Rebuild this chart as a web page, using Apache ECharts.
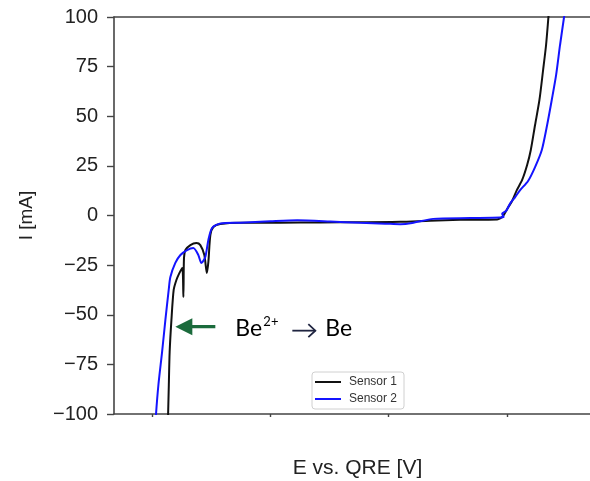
<!DOCTYPE html>
<html>
<head>
<meta charset="utf-8">
<script src="https://cdn.jsdelivr.net/npm/echarts@6/dist/echarts.min.js"></script>
<style>
  html, body { margin: 0; padding: 0; background: #fff; }
  #chart { width: 590px; height: 481px; }
</style>
</head>
<body>
<div id="chart"></div>
<script>
// Potential (V vs. QRE) and current (mA) for each sensor scan
const sensor1E = [-1.866, -1.863, -1.857, -1.850, -1.835, -1.816, -1.793, -1.768, -1.743, -1.734,
  -1.729, -1.717, -1.675, -1.624, -1.591, -1.557, -1.536, -1.523, -1.506, -1.481,
  -1.422, -1.253, -0.916, -0.578, -0.241, 0.097, 0.350, 0.603, 0.916, 0.941,
  0.966, 1.008, 1.042, 1.082, 1.127, 1.169, 1.200, 1.236, 1.273, 1.304, 1.329, 1.349, 1.354];
const sensor1I = [-108, -100, -85.4, -68.8, -52.6, -37.5, -32.5, -29.0, -26.4, -41.1,
  -21.4, -17.4, -14.9, -13.9, -14.9, -19.9, -29.0, -23.4, -9.8, -5.8,
  -4.3, -3.6, -3.6, -3.5, -3.4, -3.2, -2.6, -2.2, -2.0, -1.5,
  -0.25, 4.0, 7.3, 12.8, 17.9, 25.4, 33.0, 45.6, 58.2, 73.3, 85.9, 100, 103.5];

const sensor2E = [-1.968, -1.965, -1.945, -1.914, -1.886, -1.858, -1.844, -1.802, -1.759, -1.703,
  -1.650, -1.608, -1.582, -1.549, -1.523, -1.492, -1.422, -1.253, -1.000, -0.772,
  -0.494, -0.241, -0.030, 0.097, 0.198, 0.376, 0.688, 0.941, 0.970, 0.958,
  0.992, 1.025, 1.068, 1.110, 1.177, 1.236, 1.293, 1.338, 1.377, 1.414, 1.447, 1.481, 1.489];
const sensor2I = [-105, -100, -85.4, -68.8, -52.6, -37.5, -31.0, -23.9, -19.9, -17.4,
  -16.4, -19.9, -23.9, -20.9, -12.3, -6.3, -4.0, -3.6, -2.9, -2.4,
  -3.0, -3.7, -4.1, -4.4, -3.8, -1.7, -1.3, -1.0, -0.7, 0.9,
  2.3, 6.0, 9.3, 12.8, 17.4, 24.4, 33.0, 45.6, 58.2, 70.8, 85.9, 100, 103.5];

const seriesNames = ['Sensor 1', 'Sensor 2'];
const seriesColors = ['#111111', '#1414ff'];

// Axis ranges and tick positions
const eRange = [-2.32, 1.70];
const eTicks = [-2, -1, 0, 1];
const iRange = [-100, 100];
const iStep = 25;

// Reduction wave annotation anchor (potential, current)
const annoPoint = [-1.802, -56.0];
const annoText = ['Be', '2+', 'Be'];

const pair = (xs, ys) => xs.map((x, i) => [x, ys[i]]);

const chart = echarts.init(document.getElementById('chart'));
const axisColor = '#444';
const fontFam = '"Liberation Sans", Arial, sans-serif';

chart.setOption({
  animation: false,
  backgroundColor: '#fff',
  grid: { left: 114, top: 17, right: 0, bottom: 67, containLabel: false, outerBoundsMode: 'none' },
  legend: {
    orient: 'vertical',
    left: 312, top: 372,
    padding: [4, 7, 4, 3],
    itemGap: 5,
    itemWidth: 26, itemHeight: 12,
    icon: 'path://M0,0H26V2H0Z',
    borderColor: '#d0d0d0', borderWidth: 1, borderRadius: 3,
    backgroundColor: '#fff',
    textStyle: { fontFamily: fontFam, fontSize: 12, color: '#333', padding: [0, 0, 0, 3] },
    data: seriesNames
  },
  xAxis: [{
    type: 'value', min: eRange[0], max: eRange[1],
    name: 'E vs. QRE [V]', nameLocation: 'middle', nameGap: 44,
    nameTextStyle: { fontFamily: fontFam, fontSize: 21, color: '#222', padding: [0, 0, 0, 11] },
    axisLine: { show: true, onZero: false, lineStyle: { color: axisColor, width: 1.6 } },
    axisTick: { show: true, length: 3, customValues: eTicks, lineStyle: { color: axisColor, width: 1.4 } },
    axisLabel: { show: false },
    splitLine: { show: false }
  }, {
    type: 'value', position: 'top', min: eRange[0], max: eRange[1],
    axisLine: { show: true, onZero: false, lineStyle: { color: axisColor, width: 1.6 } },
    axisTick: { show: false }, axisLabel: { show: false }, splitLine: { show: false }
  }],
  yAxis: {
    type: 'value', min: iRange[0], max: iRange[1], interval: iStep,
    name: 'I [mA]', nameLocation: 'middle', nameGap: 72, nameRotate: 90,
    nameTextStyle: { fontFamily: fontFam, fontSize: 19, color: '#222', padding: [0, 0, 6, 0] },
    axisLine: { show: true, onZero: false, lineStyle: { color: axisColor, width: 1.6 } },
    axisTick: { show: true, length: 7, lineStyle: { color: axisColor, width: 1.4 } },
    axisLabel: {
      margin: 16, fontFamily: fontFam, fontSize: 20, color: '#222',
      formatter: v => String(v).replace('-', '\u2212')
    },
    splitLine: { show: false }
  },
  series: [0, 1].map(k => ({
    name: seriesNames[k], type: 'line', symbol: 'none', smooth: 0.25,
    clip: true,
    data: pair(k === 0 ? sensor1E : sensor2E, k === 0 ? sensor1I : sensor2I),
    lineStyle: { color: seriesColors[k], width: 2 },
    itemStyle: { color: seriesColors[k] },
    z: 2 + k
  }))
});

// Arrow and reaction label next to the reduction wave
const tip = chart.convertToPixel({ gridIndex: 0 }, annoPoint);
const tx = tip[0], ty = tip[1];
const green = '#1b6b3c';
const annoFont = 'Lato, "Open Sans", sans-serif';
chart.setOption({
  graphic: [
    { type: 'polygon', shape: { points: [[tx, ty], [tx + 17, ty - 8.5], [tx + 17, ty - 1.6], [tx + 40, ty - 1.6], [tx + 40, ty + 1.6], [tx + 17, ty + 1.6], [tx + 17, ty + 8.5]] }, style: { fill: green }, z: 10 },
    { type: 'text', x: tx + 60, y: ty + 2, style: { text: annoText[0], font: '23px ' + annoFont, fill: '#000', verticalAlign: 'middle' }, z: 10 },
    { type: 'text', x: tx + 88, y: ty - 5, style: { text: annoText[1], font: '13px ' + annoFont, fill: '#000', verticalAlign: 'middle' }, z: 10 },
    { type: 'polyline', shape: { points: [[tx + 117, ty + 4], [tx + 140, ty + 4]] }, style: { stroke: '#1f2440', lineWidth: 1.8 }, z: 10 },
    { type: 'polyline', shape: { points: [[tx + 133, ty - 2.5], [tx + 140, ty + 4], [tx + 133, ty + 10.5]] }, style: { stroke: '#1f2440', lineWidth: 1.8, fill: null }, z: 10 },
    { type: 'text', x: tx + 150, y: ty + 2, style: { text: annoText[2], font: '23px ' + annoFont, fill: '#000', verticalAlign: 'middle' }, z: 10 }
  ]
});
</script>
</body>
</html>
